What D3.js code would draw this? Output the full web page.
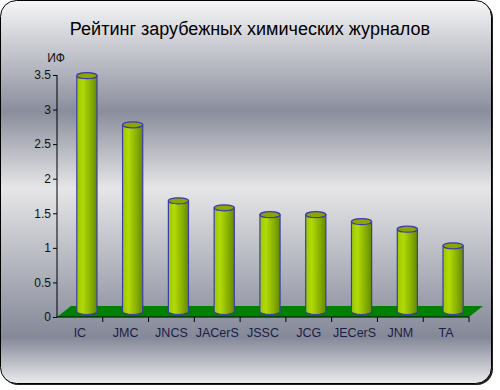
<!DOCTYPE html>
<html>
<head>
<meta charset="utf-8">
<script src="https://cdn.jsdelivr.net/npm/d3@7"></script>
<style>
  body { margin: 0; background: #fff; }
  svg { display: block; font-family: Arial, "Liberation Sans", sans-serif; }
</style>
</head>
<body>
<div id="chart"></div>
<script>
// данные
const journals = ['IC', 'JMC', 'JNCS', 'JACerS', 'JSSC', 'JCG', 'JECerS', 'JNM', 'TA'];
const impact = [3.41, 2.70, 1.60, 1.50, 1.40, 1.40, 1.30, 1.19, 0.95];
const yTicks = [0, 0.5, 1, 1.5, 2, 2.5, 3, 3.5];
const title = 'Рейтинг зарубежных химических журналов';
const yLabel = 'ИФ';

const width = 500, height = 390;
const margin = { left: 57, right: 31, top: 75, bottom: 73 };
const depthX = 14, depthY = 11;

const svg = d3.select('#chart').append('svg')
  .attr('width', width)
  .attr('height', height);

const defs = svg.append('defs');

// фон панели
const bg = defs.append('linearGradient')
  .attr('id', 'bg').attr('x1', 0).attr('y1', 0).attr('x2', 0).attr('y2', 1);
[[0, '#f6f6f7'], [0.29, '#8a8d9c'], [0.49, '#e6e6e8'], [0.88, '#848898'], [1, '#ececee']]
  .forEach(s => bg.append('stop').attr('offset', s[0]).attr('stop-color', s[1]));

const cyl = defs.append('linearGradient')
  .attr('id', 'cyl').attr('x1', 0).attr('y1', 0).attr('x2', 1).attr('y2', 0);
[[0, '#9cc800'], [0.3, '#b2da08'], [0.65, '#8cb400'], [1, '#648a00']]
  .forEach(s => cyl.append('stop').attr('offset', s[0]).attr('stop-color', s[1]));

svg.append('rect')
  .attr('x', 2).attr('y', 2).attr('width', 491).attr('height', 383)
  .attr('rx', 16).attr('fill', '#222');
svg.append('rect')
  .attr('x', 0.5).attr('y', 0.5).attr('width', 491).attr('height', 383)
  .attr('rx', 16).attr('fill', 'url(#bg)')
  .attr('stroke', '#000').attr('stroke-width', 1);

svg.append('text')
  .attr('x', 250).attr('y', 35)
  .attr('text-anchor', 'middle')
  .attr('font-size', '18px')
  .attr('fill', '#000')
  .text(title);

const x = d3.scaleBand()
  .domain(journals)
  .range([margin.left, width - margin.right]);

const y = d3.scaleLinear()
  .domain([0, 3.5])
  .range([height - margin.bottom, margin.top]);

const y0 = y(0);

// пол
svg.append('path')
  .attr('d', `M${x.range()[0]},${y0} L${x.range()[1]},${y0} L${x.range()[1] + depthX},${y0 - depthY} L${x.range()[0] + depthX},${y0 - depthY} Z`)
  .attr('fill', '#008000');

// оси
const yAxis = svg.append('g')
  .attr('transform', `translate(${margin.left},0)`)
  .call(d3.axisLeft(y).tickValues(yTicks).tickSize(4).tickPadding(2).tickFormat(d3.format('')));
yAxis.select('.domain').attr('d', `M0,${y(3.5)}H0V${y0}`);
yAxis.selectAll('text').attr('font-size', '12px').attr('fill', '#111').attr('font-family', null);

const xAxis = svg.append('g')
  .attr('transform', `translate(0,${y0})`)
  .call(d3.axisBottom(x).tickSize(0).tickPadding(11));
xAxis.selectAll('text').attr('font-size', '12.5px').attr('fill', '#1c1c48').attr('font-family', null);
xAxis.select('.domain').attr('d', `M${x.range()[0]},0H${x.range()[1]}`);
xAxis.selectAll('.sep')
  .data(journals.slice(1).concat(['end']))
  .enter().append('line')
  .attr('class', 'sep')
  .attr('x1', (d, i) => x(journals[i]) + x.bandwidth())
  .attr('x2', (d, i) => x(journals[i]) + x.bandwidth())
  .attr('y1', 0).attr('y2', 5)
  .attr('stroke', '#000');

svg.append('text')
  .attr('x', 56).attr('y', 62)
  .attr('text-anchor', 'middle')
  .attr('font-size', '12px')
  .attr('fill', '#111')
  .text(yLabel);

// цилиндры
const cw = x.bandwidth() * 0.44;
const ry = 3;
const bars = svg.append('g').selectAll('g')
  .data(journals)
  .enter().append('g')
  .attr('transform', d => `translate(${x(d) + x.bandwidth() / 2 + depthX / 2},${-depthY / 2})`);

bars.append('path')
  .attr('d', (d, i) => {
    const top = y(impact[i]), bot = y0, r = cw / 2;
    return `M${-r},${top} L${-r},${bot} A${r},${ry} 0 0 0 ${r},${bot} L${r},${top} Z`;
  })
  .attr('fill', 'url(#cyl)')
  .attr('stroke', '#3c3ca8')
  .attr('stroke-width', 1.2);

bars.append('ellipse')
  .attr('cx', 0)
  .attr('cy', (d, i) => y(impact[i]))
  .attr('rx', cw / 2).attr('ry', ry)
  .attr('fill', '#8ea400')
  .attr('stroke', '#3c3ca8')
  .attr('stroke-width', 1.2);
</script>
</body>
</html>
